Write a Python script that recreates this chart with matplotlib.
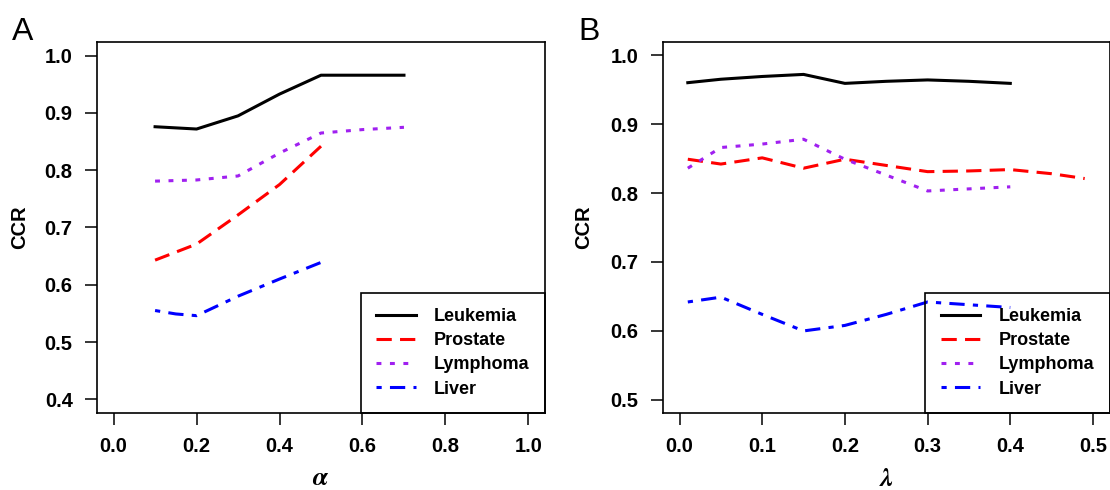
import matplotlib
matplotlib.use("Agg")
import matplotlib.pyplot as plt

plt.rcParams["font.family"] = ["Liberation Sans", "DejaVu Sans"]
plt.rcParams["font.weight"] = "bold"
plt.rcParams["mathtext.fontset"] = "stix"

# panel A: CCR vs alpha
a_leuk_x = [0.1, 0.15, 0.2, 0.3, 0.4, 0.5, 0.6, 0.7]
a_leuk_y = [0.876, 0.874, 0.872, 0.895, 0.933, 0.966, 0.966, 0.966]
a_pros_x = [0.1, 0.2, 0.3, 0.4, 0.5]
a_pros_y = [0.643, 0.671, 0.722, 0.775, 0.842]
a_lymp_x = [0.1, 0.2, 0.3, 0.4, 0.5, 0.6, 0.7]
a_lymp_y = [0.781, 0.783, 0.790, 0.830, 0.865, 0.871, 0.875]
a_liver_x = [0.1, 0.15, 0.2, 0.3, 0.4, 0.5]
a_liver_y = [0.555, 0.549, 0.546, 0.580, 0.610, 0.639]

# panel B: CCR vs lambda
b_x = [0.01, 0.05, 0.1, 0.15, 0.2, 0.25, 0.3, 0.35, 0.4]
b_leuk_y = [0.960, 0.965, 0.969, 0.972, 0.959, 0.962, 0.964, 0.962, 0.959]
b_pros_x = [0.01, 0.05, 0.1, 0.15, 0.2, 0.25, 0.3, 0.35, 0.4, 0.45, 0.49]
b_pros_y = [0.849, 0.842, 0.851, 0.836, 0.849, 0.840, 0.831, 0.832, 0.834, 0.828, 0.821]
b_lymp_y = [0.836, 0.866, 0.871, 0.878, 0.849, 0.826, 0.803, 0.806, 0.809]
b_liver_y = [0.642, 0.649, 0.624, 0.600, 0.608, 0.624, 0.642, 0.638, 0.634]

names = ["Leukemia", "Prostate", "Lymphoma", "Liver"]
colors = ["black", "#FF0000", "#A020F0", "#0000FF"]
styles = ["-", (0, (5, 2.7)), (0, (1.6, 2.8)), (0, (1.7, 2.7, 5, 2.7))]
LW = 2.2

fig = plt.figure(figsize=(11.1, 4.9), dpi=100)
axA = fig.add_axes([97/1110, 77/490, 448/1110, 371/490])
axB = fig.add_axes([663/1110, 77/490, 446.5/1110, 371/490])

def style_axis(ax):
    for s in ax.spines.values():
        s.set_linewidth(1.2)
    ax.tick_params(direction="out", length=8.5, width=1.1, labelsize=14.5, pad=9)

A_data = [(a_leuk_x, a_leuk_y), (a_pros_x, a_pros_y), (a_lymp_x, a_lymp_y), (a_liver_x, a_liver_y)]
for (x, y), n, c, ls in zip(A_data, names, colors, styles):
    axA.plot(x, y, color=c, linestyle=ls, linewidth=LW, label=n)
axA.set_xlim(-0.04, 1.04)
axA.set_ylim(0.376, 1.024)
axA.set_xticks([0.0, 0.2, 0.4, 0.6, 0.8, 1.0])
axA.set_yticks([0.4, 0.5, 0.6, 0.7, 0.8, 0.9, 1.0])
axA.set_xticklabels(["0.0", "0.2", "0.4", "0.6", "0.8", "1.0"])
axA.set_yticklabels(["0.4", "0.5", "0.6", "0.7", "0.8", "0.9", "1.0"])
style_axis(axA)
axA.set_ylabel("CCR", fontsize=14.5, fontweight="bold")
axA.yaxis.set_label_coords(-0.152, 0.5)
axA.set_xlabel(r"$\alpha$", fontsize=19)
axA.xaxis.label.set_va("center")
axA.xaxis.set_label_coords(0.5, -0.174)

B_data = [(b_x, b_leuk_y), (b_pros_x, b_pros_y), (b_x, b_lymp_y), (b_x, b_liver_y)]
for (x, y), n, c, ls in zip(B_data, names, colors, styles):
    axB.plot(x, y, color=c, linestyle=ls, linewidth=LW, label=n)
axB.set_xlim(-0.02, 0.52)
axB.set_ylim(0.481, 1.019)
axB.set_xticks([0.0, 0.1, 0.2, 0.3, 0.4, 0.5])
axB.set_yticks([0.5, 0.6, 0.7, 0.8, 0.9, 1.0])
axB.set_xticklabels(["0.0", "0.1", "0.2", "0.3", "0.4", "0.5"])
axB.set_yticklabels(["0.5", "0.6", "0.7", "0.8", "0.9", "1.0"])
style_axis(axB)
axB.set_ylabel("CCR", fontsize=14.5, fontweight="bold")
axB.yaxis.set_label_coords(-0.157, 0.5)
axB.set_xlabel(r"$\lambda$", fontsize=19)
axB.xaxis.label.set_va("center")
axB.xaxis.set_label_coords(0.5, -0.178)

# legend without fill, lines show through like in R
for ax in (axA, axB):
    leg = ax.legend(loc="lower right", bbox_to_anchor=(1, 0), borderaxespad=0,
                    fancybox=False, edgecolor="black", facecolor="none",
                    prop={"size": 13, "weight": "bold"}, handlelength=2.2,
                    handletextpad=1.0, borderpad=0.85, labelspacing=0.4)
    leg.get_frame().set_linewidth(1.2)
    leg.get_frame().set_alpha(None)

fig.text(12/1110, 1 - 40/490, "A", fontsize=23, fontweight="normal")
fig.text(578/1110, 1 - 40/490, "B", fontsize=23, fontweight="normal")

fig.savefig("out.png", dpi=100)
